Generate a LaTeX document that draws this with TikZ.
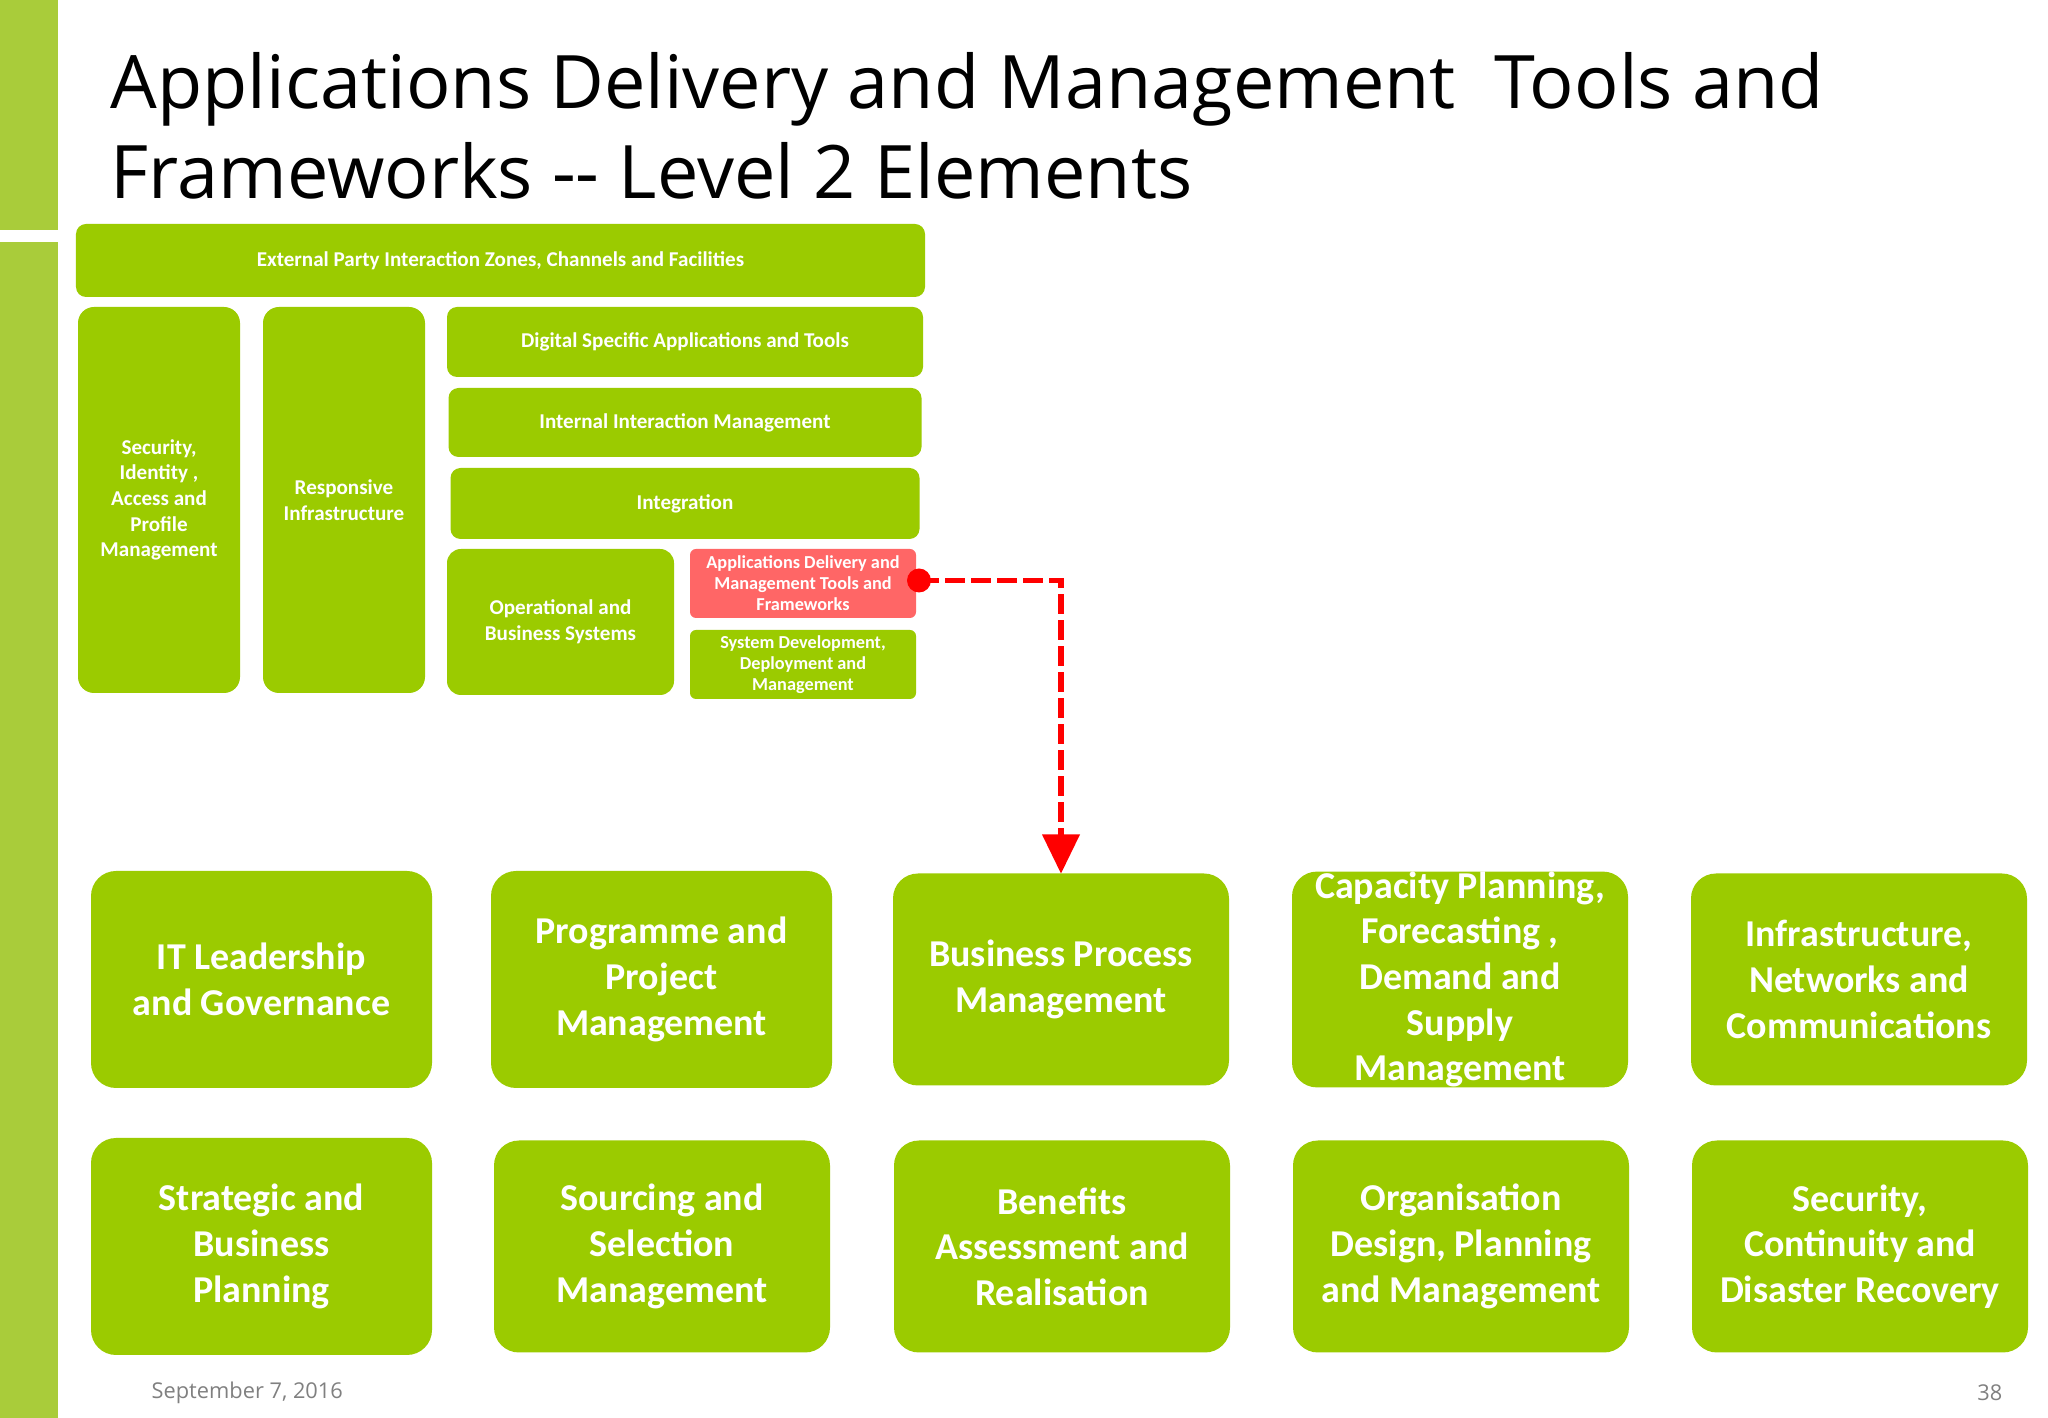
\documentclass[tikz,border=0pt]{standalone}
\usepackage{fontspec}
\setmainfont{Carlito}
\newfontfamily\titlefont{Open Sans}
\usetikzlibrary{arrows.meta, positioning}

\definecolor{boxgreen}{HTML}{9BCB00}
\definecolor{bargreen}{HTML}{A9CC3A}
\definecolor{hotred}{HTML}{FF6666}
\definecolor{footgray}{HTML}{808080}

\begin{document}
\begin{tikzpicture}[
    element/.style={fill=boxgreen, text=white, font=\bfseries\fontsize{10.8}{13}\selectfont, align=center, rounded corners=0.25cm, inner sep=0pt, outer sep=0pt, minimum width=3.36cm, minimum height=2.12cm},
    small/.style={fill=boxgreen, text=white, font=\bfseries\fontsize{6}{7.3}\selectfont, align=center, rounded corners=0.1cm, inner sep=0pt, outer sep=0pt},
    tiny/.style={small, font=\bfseries\fontsize{5.2}{6}\selectfont, rounded corners=0.06cm, minimum width=2.26cm, minimum height=0.69cm},
    leftcol/.style={small, minimum width=1.62cm, minimum height=3.86cm, rounded corners=0.16cm},
    foot/.style={text=footgray, font=\titlefont\fontsize{6.2}{7}\selectfont, inner sep=0pt},
    link/.style={red, line width=0.055cm, dashed, dash pattern=on 0.2cm off 0.06cm}
]
    \useasboundingbox (0,0) rectangle (20.48,-14.18);

    % Side bars
    \fill[bargreen] (0,0) rectangle (0.58,-2.30);
    \fill[bargreen] (0,-2.42) rectangle (0.58,-14.18);

    % Title
    \node[anchor=north west, inner sep=0pt, align=left, font=\titlefont\fontsize{21}{25.5}\selectfont] (title) at (1.10,-0.52) {Applications Delivery and Management\ \ Tools and\\Frameworks -- Level 2 Elements};

    % Upper picture
    \node[small, minimum width=8.49cm, minimum height=0.73cm, anchor=north west] (external) at (0.76,-2.24) {External Party Interaction Zones, Channels and Facilities};
    \node[leftcol, anchor=north west] (security) at (0.78,-3.07) {Security,\\Identity ,\\Access and\\Profile\\Management};
    \node[leftcol, right=0.23cm of security] (responsive) {Responsive\\Infrastructure};
    \node[small, minimum width=4.76cm, minimum height=0.70cm, anchor=north west] (digital) at (4.47,-3.07) {Digital Specific Applications and Tools};
    \node[small, minimum width=4.73cm, minimum height=0.69cm, below=0.11cm of digital] (internal) {Internal Interaction Management};
    \node[small, minimum width=4.69cm, minimum height=0.71cm, below=0.11cm of internal] (integration) {Integration};
    \node[small, minimum width=2.27cm, minimum height=1.46cm, rounded corners=0.14cm, anchor=north west] (operational) at (4.47,-5.49) {Operational and\\Business Systems};
    \node[tiny, fill=hotred, anchor=north west] (apps) at (6.90,-5.49) {Applications Delivery and\\Management Tools and\\Frameworks};
    \node[tiny, below=0.12cm of apps] (sysdev) {System Development,\\Deployment and\\Management};

    % Lower grid
    \node[element, minimum width=3.41cm, minimum height=2.17cm, anchor=north west] (itlead) at (0.91,-8.71) {IT Leadership\\and Governance};
    \node[element, minimum width=3.41cm, minimum height=2.17cm, right=0.59cm of itlead] (programme) {Programme and\\Project\\Management};
    \node[element, right=0.61cm of programme] (bpm) {Business Process\\Management};
    \node[element, right=0.63cm of bpm] (capacity) {Capacity Planning,\\Forecasting ,\\Demand and\\Supply\\Management};
    \node[element, right=0.63cm of capacity] (infra) {Infrastructure,\\Networks and\\Communications};

    \node[element, minimum width=3.41cm, minimum height=2.17cm, anchor=north west] (strategic) at (0.91,-11.38) {Strategic and\\Business\\Planning};
    \node[element, right=0.62cm of strategic] (sourcing) {Sourcing and\\Selection\\Management};
    \node[element, right=0.64cm of sourcing] (benefits) {Benefits\\Assessment and\\Realisation};
    \node[element, right=0.63cm of benefits] (organisation) {Organisation\\Design, Planning\\and Management};
    \node[element, right=0.63cm of organisation] (continuity) {Security,\\Continuity and\\Disaster Recovery};

    % Link
    \fill[red] ([xshift=0.03cm,yshift=0.03cm]apps.east) circle (0.12cm) coordinate (start);
    \coordinate (bend) at (bpm.north |- start);
    \draw[link] (start) -- (bend) -- ([yshift=0.36cm]bpm.north);
    \fill[red] (bpm.north) -- ++(-0.19,0.39) -- ++(0.38,0) -- cycle;

    % Footer
    \node[foot, anchor=west] (date) at (1.51,-13.93) {September 7, 2016};
    \node[foot, anchor=east] (page) at (20.03,-13.93) {38};
\end{tikzpicture}
\end{document}
